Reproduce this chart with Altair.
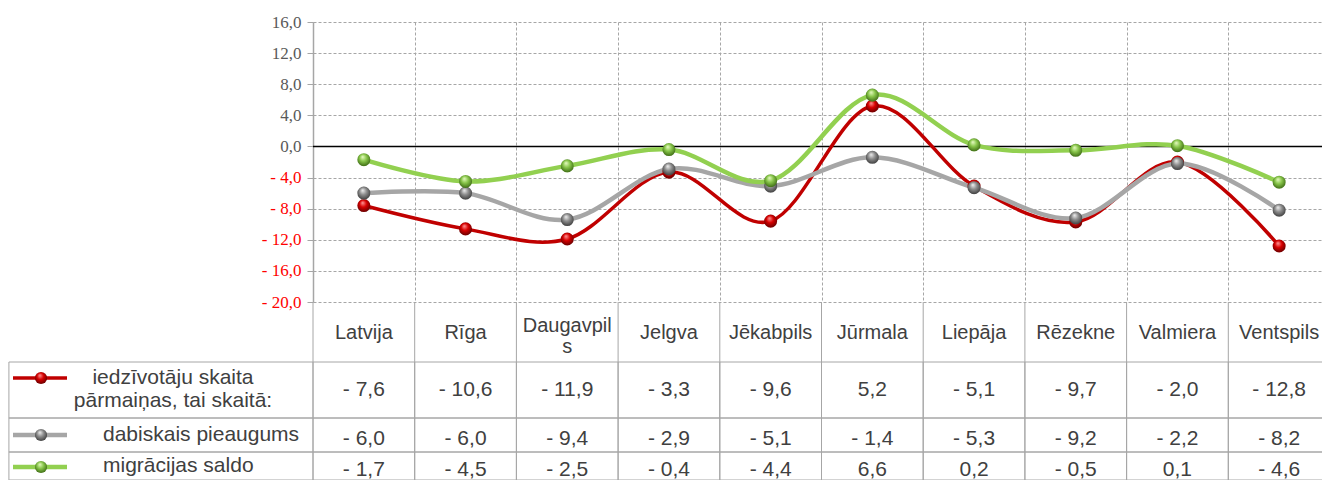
import altair as alt
import pandas as pd

# ---------------- data ----------------
categories = ["Latvija", "Rīga", "Daugavpils", "Jelgva", "Jēkabpils",
              "Jūrmala", "Liepāja", "Rēzekne", "Valmiera", "Ventspils"]
header_labels = ["Latvija", "Rīga", "Daugavpil\ns", "Jelgva", "Jēkabpils",
                 "Jūrmala", "Liepāja", "Rēzekne", "Valmiera", "Ventspils"]
total_change = [-7.6, -10.6, -11.9, -3.3, -9.6, 5.2, -5.1, -9.7, -2.0, -12.8]
natural_increase = [-6.0, -6.0, -9.4, -2.9, -5.1, -1.4, -5.3, -9.2, -2.2, -8.2]
net_migration = [-1.7, -4.5, -2.5, -0.4, -4.4, 6.6, 0.2, -0.5, 0.1, -4.6]
series_labels = ["iedzīvotāju skaita\npārmaiņas, tai skaitā:",
                 "dabiskais pieaugums",
                 "migrācijas saldo"]
y_ticks = [16, 12, 8, 4, 0, -4, -8, -12, -16, -20]

# ---------------- styles / layout ----------------
PLOT_W, PLOT_H = 1017, 280
ROW_H = [60, 56, 34, 28]
BORDER = "#A6A6A6"
TEXT = "#404040"
SANS = "Liberation Sans"
SERIF = "Liberation Serif"
LEGEND_LEFT = -3.49   # left edge of the legend column (column units)

styles = [
    dict(line="#C00000", width=3.5, stops=["#FF9A9A", "#D80000", "#5A0000"]),
    dict(line="#A6A6A6", width=4.5, stops=["#F2F2F2", "#8E8E8E", "#363636"]),
    dict(line="#92D050", width=4.5, stops=["#E8FBC4", "#88C64A", "#36620F"]),
]


def sphere(stops):
    return {
        "gradient": "radial",
        "stops": [{"offset": 0, "color": stops[0]},
                  {"offset": 0.45, "color": stops[1]},
                  {"offset": 1, "color": stops[2]}],
        "x1": 0.4, "y1": 0.28, "r1": 0,
        "x2": 0.5, "y2": 0.45, "r2": 0.6,
    }


n = len(categories)
idx = list(range(n))
series_values = [total_change, natural_increase, net_migration]

xscale = alt.Scale(domain=[-0.5, n - 0.5], nice=False, zero=False)
yscale = alt.Scale(domain=[min(y_ticks), max(y_ticks)], nice=False, zero=False)

label_expr = ("(datum.value < 0 ? '- ' : '') + "
              "replace(format(abs(datum.value), '.1f'), '.', ',')")

x_top = alt.X("idx:Q", scale=xscale,
              axis=alt.Axis(values=[i - 0.5 for i in range(n + 1)], grid=True,
                            gridColor=BORDER, gridDash=[3, 2], gridWidth=1,
                            labels=False, ticks=False, domain=False, title=None))
y_top = alt.Y("value:Q", scale=yscale,
              axis=alt.Axis(values=y_ticks, labelExpr=label_expr,
                            labelFont=SERIF, labelFontSize=17,
                            labelColor={"condition": {"test": "datum.value < 0", "value": "#FF0000"},
                                        "value": "#595959"},
                            labelPadding=6, tickSize=6, tickColor=BORDER, tickWidth=1,
                            domainColor=BORDER, domainWidth=1.5,
                            grid=True, gridColor=BORDER, gridDash=[3, 2], gridWidth=1,
                            title=None))

long = pd.DataFrame({
    "idx": idx * 3,
    "series": [k for k in range(3) for _ in range(n)],
    "value": total_change + natural_increase + net_migration,
})

layers = [alt.Chart(pd.DataFrame({"value": [0]}))
          .mark_rule(color="black", strokeWidth=1.5).encode(y=y_top)]
for k, st in enumerate(styles):
    layers.append(alt.Chart(long).transform_filter(f"datum.series == {k}")
                  .mark_line(interpolate="cardinal", color=st["line"], strokeWidth=st["width"])
                  .encode(x=x_top, y=y_top))
for k, st in enumerate(styles):
    layers.append(alt.Chart(long).transform_filter(f"datum.series == {k}")
                  .mark_point(shape="circle", filled=True, fill=sphere(st["stops"]),
                              size=170, opacity=1, strokeWidth=0)
                  .encode(x=x_top, y=y_top))
top = alt.layer(*layers).properties(width=PLOT_W, height=PLOT_H)

# ---------------- data table ----------------
bounds_df = pd.DataFrame({"b": [i - 0.5 for i in range(n + 1)]})
hdr_df = pd.DataFrame({"idx": idx, "label": header_labels})
hdr_text = alt.Chart(hdr_df).mark_text(font=SANS, fontSize=20, color=TEXT,
                                       lineBreak="\n", lineHeight=21)
header = alt.layer(
    alt.Chart(bounds_df).mark_rule(color=BORDER, strokeWidth=1)
    .encode(x=alt.X("b:Q", scale=xscale, axis=None)),
    hdr_text.transform_filter("indexof(datum.label, '\\n') < 0")
    .encode(x=alt.X("idx:Q", scale=xscale, axis=None), y=alt.value(31), text="label:N"),
    hdr_text.transform_filter("indexof(datum.label, '\\n') >= 0")
    .encode(x=alt.X("idx:Q", scale=xscale, axis=None), y=alt.value(24), text="label:N"),
).properties(width=PLOT_W, height=ROW_H[0])

cells_df = pd.DataFrame({"x0": [LEGEND_LEFT] + [i - 0.5 for i in idx],
                         "x1": [-0.5] + [i + 0.5 for i in idx]})


def series_row(k, height, value_y, sym_y, label_x, label_y, label_align):
    st = styles[k]
    vals = pd.DataFrame({"idx": idx, "v": series_values[k]})
    cells = (alt.Chart(cells_df)
             .mark_rect(fillOpacity=0, stroke=BORDER, strokeWidth=1)
             .encode(x=alt.X("x0:Q", scale=xscale, axis=None), x2="x1:Q"))
    values = (alt.Chart(vals)
              .transform_calculate(lbl=label_expr.replace("datum.value", "datum.v"))
              .mark_text(font=SANS, fontSize=21, color=TEXT)
              .encode(x=alt.X("idx:Q", scale=xscale, axis=None), y=alt.value(value_y),
                      text="lbl:N"))
    one = pd.DataFrame({"name": [series_labels[k]]})
    sym_line = (alt.Chart(one).mark_rule(color=st["line"], strokeWidth=st["width"])
                .encode(x=alt.value(-300), x2=alt.value(-246), y=alt.value(sym_y)))
    sym_pt = (alt.Chart(one)
              .mark_point(shape="circle", filled=True, fill=sphere(st["stops"]),
                          size=150, opacity=1, strokeWidth=0)
              .encode(x=alt.value(-272), y=alt.value(sym_y)))
    name = (alt.Chart(one)
            .mark_text(font=SANS, fontSize=21, color=TEXT, align=label_align,
                       lineBreak="\n", lineHeight=23)
            .encode(x=alt.value(label_x), y=alt.value(label_y), text="name:N"))
    return alt.layer(cells, values, sym_line, sym_pt, name).properties(width=PLOT_W, height=height)


row1 = series_row(0, ROW_H[1], 28, 16, -140, 16, "center")
row2 = series_row(1, ROW_H[2], 21, 17, -210, 17, "left")
row3 = series_row(2, ROW_H[3], 18, 15, -210, 14, "left")

chart = (alt.vconcat(top, header, row1, row2, row3, spacing=0, bounds="flush")
         .resolve_scale(x="independent", y="independent")
         .configure_view(stroke=None)
         .properties(padding={"left": 0, "top": 5, "right": -9, "bottom": 0},
                     background="white"))

chart.save("out.html", embed_options={"renderer": "svg", "actions": False})
